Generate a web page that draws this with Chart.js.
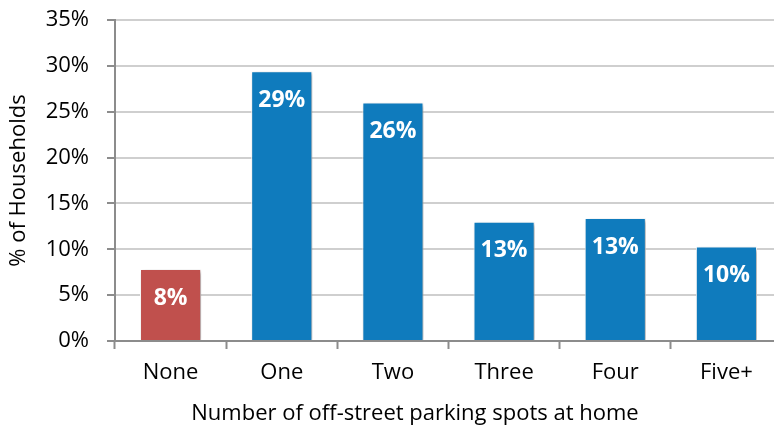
<!DOCTYPE html>
<html>
<head>
<meta charset="utf-8">
<script src="https://cdn.jsdelivr.net/npm/chart.js@4.4.1/dist/chart.umd.min.js"></script>
<style>
  html, body { margin: 0; padding: 0; background: #fff; overflow: hidden; }
  #wrap { width: 782px; height: 431px; position: relative; }
</style>
</head>
<body>
<div id="wrap"><canvas id="chart"></canvas></div>
<script>
// Data
const categories = ['None', 'One', 'Two', 'Three', 'Four', 'Five+'];
const shares = [7.85, 29.4, 26.0, 13.0, 13.4, 10.3];
const barColors = ['#c0504d', '#0f7bbd', '#0f7bbd', '#0f7bbd', '#0f7bbd', '#0f7bbd'];
const yTicks = [0, 5, 10, 15, 20, 25, 30, 35];
const yTitle = '% of Households';
const xTitle = 'Number of off-street parking spots at home';

const FONT = '"Open Sans", Lato, sans-serif';

// soft shadow behind bars, like the Excel original
const barShadow = {
  id: 'barShadow',
  beforeDatasetsDraw(chart) {
    const ctx = chart.ctx;
    ctx.save();
    ctx.shadowColor = 'rgba(0,0,0,0.35)';
    ctx.shadowBlur = 4;
    ctx.shadowOffsetX = 2;
    ctx.shadowOffsetY = 2;
  },
  afterDatasetsDraw(chart) { chart.ctx.restore(); }
};

// white % labels near the top of each bar + x axis title
const barLabels = {
  id: 'barLabels',
  afterDraw(chart) {
    const ctx = chart.ctx;
    const meta = chart.getDatasetMeta(0);
    ctx.save();
    ctx.fillStyle = '#fff';
    ctx.font = 'bold 23px ' + FONT;
    ctx.textAlign = 'center';
    ctx.textBaseline = 'middle';
    meta.data.forEach((bar, i) => {
      ctx.fillText(Math.round(shares[i]) + '%', bar.x, bar.y + 29);
    });
    ctx.fillStyle = '#000';
    ctx.font = '22px ' + FONT;
    ctx.fillText(xTitle, 415, 414);
    ctx.restore();
  }
};

new Chart(document.getElementById('chart'), {
  type: 'bar',
  data: {
    labels: categories,
    datasets: [{
      data: shares,
      backgroundColor: barColors,
      borderColor: '#ffffff',
      borderWidth: 1,
      barPercentage: 0.55,
      categoryPercentage: 1
    }]
  },
  options: {
    responsive: true,
    maintainAspectRatio: false,
    animation: false,
    layout: { padding: { top: 20, left: 0, right: 0, bottom: 0 } },
    plugins: { legend: { display: false }, tooltip: { enabled: false } },
    scales: {
      x: {
        afterFit: s => { s.height = 90; s.paddingLeft = 0; s.paddingRight = 0; },
        grid: { drawOnChartArea: false, drawTicks: true, tickLength: 8, tickColor: '#8c8c8c', tickWidth: 2, offset: true },
        border: { display: true, color: '#8c8c8c', width: 2 },
        ticks: { color: '#000', font: { family: FONT, size: 22 }, padding: 11, maxRotation: 0 }
      },
      y: {
        min: 0, max: 35,
        afterFit: s => { s.width = 115; s.paddingTop = 0; s.paddingBottom = 0; },
        afterBuildTicks: s => { s.ticks = yTicks.map(v => ({ value: v })); },
        grid: { color: '#cfcfcf', lineWidth: 2, drawTicks: true, tickLength: 8, tickColor: '#8c8c8c', tickWidth: 2 },
        border: { display: true, color: '#8c8c8c', width: 2 },
        ticks: { color: '#000', font: { family: FONT, size: 22 }, padding: 18, callback: v => v + '%' },
        title: { display: true, text: yTitle, color: '#000', font: { family: FONT, size: 22 }, padding: { top: 6, bottom: 4 } }
      }
    }
  },
  plugins: [barShadow, barLabels]
});
</script>
</body>
</html>
